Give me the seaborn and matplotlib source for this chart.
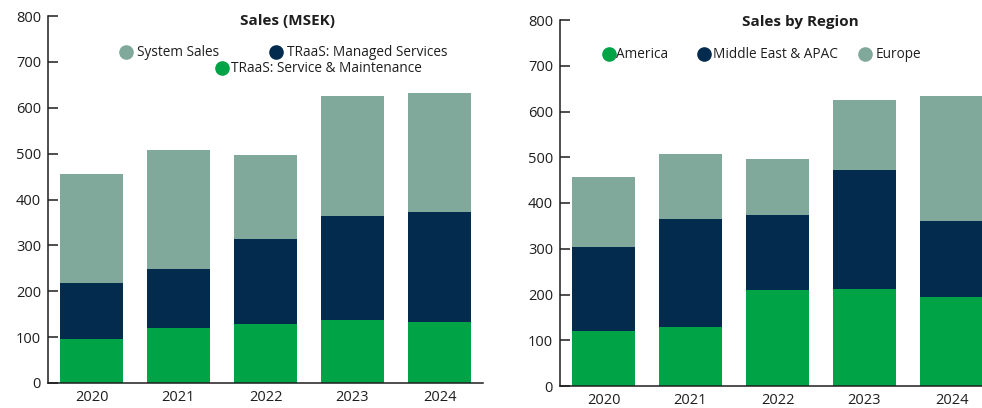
import matplotlib
matplotlib.use("Agg")
import matplotlib.pyplot as plt
from matplotlib.lines import Line2D
import seaborn as sns
import numpy as np

years = ["2020", "2021", "2022", "2023", "2024"]

# Sales (MSEK) by business line
service_maint = [96, 119, 128, 138, 133]
managed_services = [122, 130, 185, 226, 239]
system_sales = [238, 259, 183, 261, 261]

# Sales by region
america = [121, 128, 209, 211, 194]
me_apac = [183, 237, 165, 261, 166]
europe = [152, 143, 122, 153, 273]

GREEN = "#00A346"
NAVY = "#022B4E"
GREY = "#80A89B"
INK = "#1e1e1e"

sns.set_style("white")
plt.rcParams["font.family"] = ["Open Sans", "DejaVu Sans"]

W, H = 982, 408
fig = plt.figure(figsize=(W / 100, H / 100), dpi=100)


def px_axes(left, top, right, bottom):
    return fig.add_axes([left / W, 1 - bottom / H, (right - left) / W, (bottom - top) / H])


def stacked(ax, layers, colors):
    # draw cumulative totals from the top down so each layer covers the one beneath
    cum = np.cumsum(np.array(layers), axis=0)
    for vals, col in zip(cum[::-1], colors[::-1]):
        sns.barplot(x=years, y=vals, color=col, saturation=1, width=0.73,
                    ax=ax, linewidth=0)


def style(ax):
    ax.set_xlim(-0.5, 4.5)
    ax.set_ylim(0, 800)
    ax.set_yticks(range(0, 801, 100))
    ax.set_xticks([0.5, 1.5, 2.5, 3.5, 4.5], minor=True)
    ax.tick_params(axis="x", which="major", length=0, pad=5, labelsize=10.5, labelcolor=INK)
    ax.tick_params(axis="x", which="minor", direction="in", length=7, width=1.1, color=INK)
    ax.tick_params(axis="y", direction="in", length=7, width=1.1, color=INK, pad=5,
                   labelsize=10.5, labelcolor=INK, left=True)
    for s in ["top", "right"]:
        ax.spines[s].set_visible(False)
    for s in ["left", "bottom"]:
        ax.spines[s].set_color(INK)
        ax.spines[s].set_linewidth(1.1)
    ax.set_xlabel("")
    ax.set_ylabel("")


def key(ax, label, color, cx, cy, gap=0.3):
    h = Line2D([], [], marker="o", linestyle="", markersize=9.5, color=color)
    leg = ax.legend([h], [label], loc="center left", frameon=False,
                    bbox_to_anchor=((cx - 7) / W, 1 - cy / H), bbox_transform=fig.transFigure,
                    borderpad=0, borderaxespad=0, handlelength=1.0, handletextpad=gap,
                    fontsize=9.8, labelcolor=INK)
    ax.add_artist(leg)
    ax.legend_ = None  # keep it only once in the artist list


ax1 = px_axes(48, 16, 483, 383)
stacked(ax1, [service_maint, managed_services, system_sales], [GREEN, NAVY, GREY])
style(ax1)
fig.text(288 / W, 1 - 21 / H, "Sales (MSEK)", ha="center", va="center",
         fontsize=11, fontweight="bold", color=INK)
key(ax1, "System Sales", GREY, 126, 53)
key(ax1, "TRaaS: Managed Services", NAVY, 276, 53)
key(ax1, "TRaaS: Service & Maintenance", GREEN, 222, 69, gap=0.15)

ax2 = px_axes(560, 20, 995, 386)
stacked(ax2, [america, me_apac, europe], [GREEN, NAVY, GREY])
style(ax2)
fig.text(800 / W, 1 - 22 / H, "Sales by Region", ha="center", va="center",
         fontsize=11, fontweight="bold", color=INK)
key(ax2, "America", GREEN, 609, 55, gap=0.05)
key(ax2, "Middle East & APAC", NAVY, 704, 55, gap=0.2)
key(ax2, "Europe", GREY, 865, 55, gap=0.3)

fig.savefig("out.png", dpi=100)
